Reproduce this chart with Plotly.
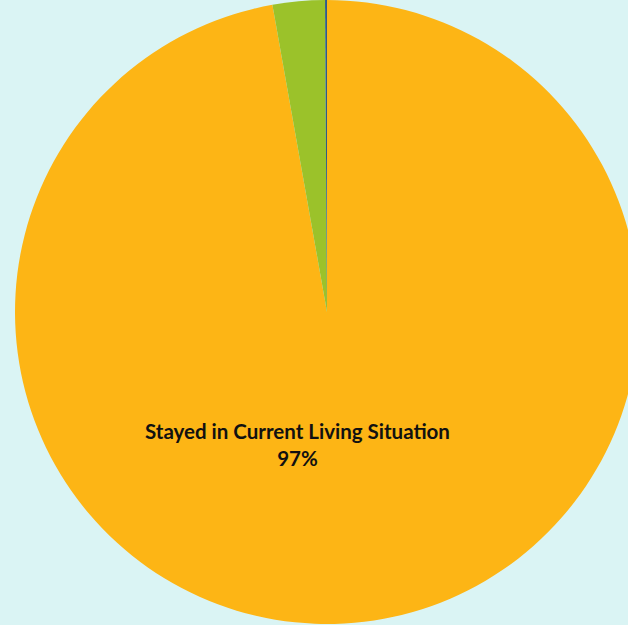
import plotly.graph_objects as go

labels = ["Stayed in Current Living Situation", "Moved to Other Housing", "Other / Unknown"]
values = [97.2, 2.7, 0.1]
colors = ["#FDB515", "#9BC22A", "#2F5B86"]

BG = "#DAF4F4"
W, H = 654, 624

fig = go.Figure(go.Pie(
    labels=labels,
    values=values,
    sort=False,
    direction="clockwise",
    rotation=0,
    marker=dict(colors=colors, line=dict(width=0)),
    textinfo="none",
    showlegend=False,
    hoverinfo="label+percent",
    domain=dict(x=[0, 1], y=[0, 1]),
))

total = sum(values)
main_pct = round(values[0] / total * 100)
fig.add_annotation(
    x=297 / W, y=1 - 472 / H, xref="paper", yref="paper",
    text=f"<b>{labels[0]}</b><br><b>{main_pct}%</b>",
    showarrow=False, align="center",
    font=dict(family="Lato, Open Sans, sans-serif", size=20.5, color="#111111"),
)

fig.update_layout(
    width=W, height=H,
    margin=dict(l=0, r=0, t=0, b=0),
    paper_bgcolor=BG,
    plot_bgcolor=BG,
)

fig.write_html(
    "out.html",
    config={"displayModeBar": False},
    post_script=(
        "document.body.style.margin='0';"
        "document.body.style.overflow='hidden';"
        f"document.body.style.background='{BG}';"
        f"document.documentElement.style.background='{BG}';"
    ),
)
